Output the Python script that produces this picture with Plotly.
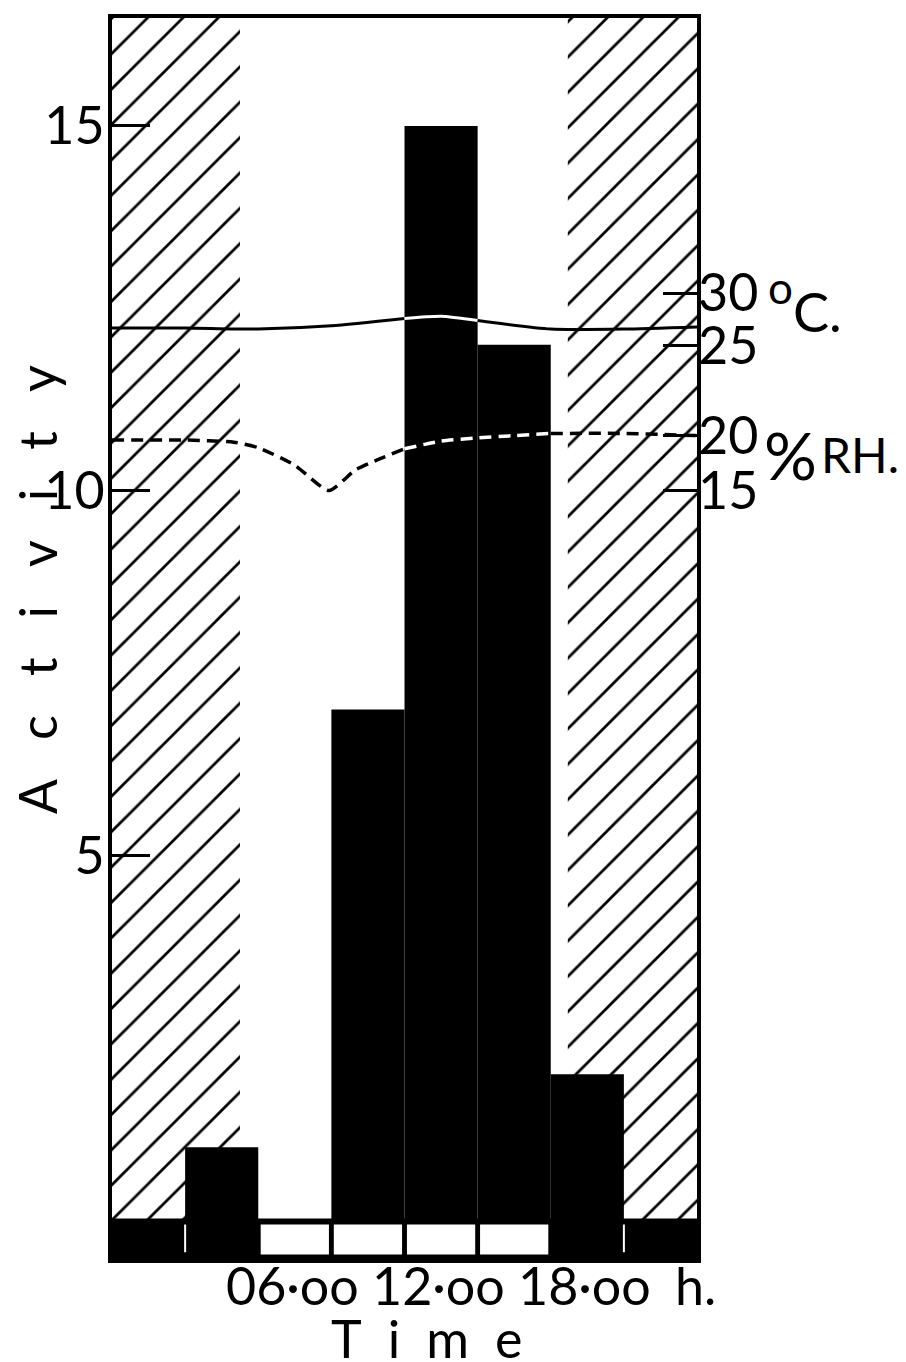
import plotly.graph_objects as go

# ---------------- data ----------------
bin_start = [3, 6, 9, 12, 15, 18]          # start of 3-hour bins (h)
activity = [1, 0, 7, 15, 12, 2]            # activity per bin
bin_width = 3

dark_start = [0, 18.7]                     # hatched (dark) periods, h
dark_end = [5.25, 24]

light_on, light_off = 6, 18                # light period in bottom strip
strip_bins = [0, 3, 6, 9, 12, 15, 18, 21, 24]

temp_hours = [0, 3, 6, 9, 12, 13.5, 15, 18, 21, 24]
temp_c = [26.7, 26.7, 26.6, 26.9, 27.6, 27.8, 27.4, 26.6, 26.6, 26.8]

rh_hours = [0, 3, 5, 6, 7.5, 8.9, 10, 11, 12, 13.5, 15, 16.5, 18, 21, 24]
rh_pct = [19.6, 19.6, 19.4, 18.9, 17.3, 15.0, 16.9, 17.9, 18.8, 19.5, 19.8, 20.0, 20.2, 20.2, 20.0]

x_ticks = [6, 12, 18]
x_ticktext = ["06·oo", "12·oo", "18·oo"]
y_ticks = [5, 10, 15]
temp_ticks = [25, 30]
rh_ticks = [15, 20]

Y_RANGE = [-0.533, 16.48]
T_RANGE = [-61.42, 56.04]
RH_RANGE = [-55.09, 58.09]

FONT = "Lato, sans-serif"
SP = "\u2002\u2009\u2009"

fig = go.Figure()

# hatched dark periods
fig.add_trace(go.Bar(
    x=[(a + b) / 2 for a, b in zip(dark_start, dark_end)],
    y=[Y_RANGE[1]] * len(dark_start),
    width=[b - a for a, b in zip(dark_start, dark_end)],
    base=0,
    marker=dict(color="white", line=dict(width=0),
                pattern=dict(shape="/", size=25, solidity=0.11,
                             fgcolor="black", bgcolor="white", fgopacity=1)),
    yaxis="y", showlegend=False, hoverinfo="skip"))

# activity bars
fig.add_trace(go.Bar(
    x=[s + bin_width / 2 for s in bin_start], y=activity, width=bin_width,
    marker=dict(color="black", line=dict(width=0)),
    yaxis="y", showlegend=False))


def split(xs, ys, a, b):
    i0, i1 = xs.index(a), xs.index(b)
    return xs[i0:i1 + 1], ys[i0:i1 + 1]


# temperature (solid): black outside bar 12-15, white over it
for (a, b, col) in [(0, 12, "black"), (12, 15, "white"), (15, 24, "black")]:
    xs, ys = split(temp_hours, temp_c, a, b)
    fig.add_trace(go.Scatter(x=xs, y=ys, mode="lines", yaxis="y2",
                             line=dict(color=col, width=3, shape="spline", smoothing=0.6),
                             showlegend=False))

# relative humidity (dashed): white where it crosses bars 12-18
for (a, b, col) in [(0, 12, "black"), (12, 18, "white"), (18, 24, "black")]:
    xs, ys = split(rh_hours, rh_pct, a, b)
    fig.add_trace(go.Scatter(x=xs, y=ys, mode="lines", yaxis="y3",
                             line=dict(color=col, width=3.5, dash="12px,7px",
                                       shape="spline", smoothing=0.6),
                             showlegend=False))

# bottom light/dark strip
shapes = [dict(type="rect", xref="x", yref="y", x0=0, x1=24, y0=Y_RANGE[0], y1=0,
               fillcolor="black", line=dict(width=0), layer="above")]
for a, b in zip(strip_bins[:-1], strip_bins[1:]):
    if a >= light_on and b <= light_off:
        shapes.append(dict(type="rect", xref="x", yref="y", x0=a + 0.1, x1=b - 0.1,
                           y0=-0.47, y1=-0.06, fillcolor="white",
                           line=dict(width=0), layer="above"))
    elif a > 0 and (a < light_on or a > light_off):
        shapes.append(dict(type="line", xref="x", yref="y", x0=a, x1=a,
                           y0=-0.44, y1=-0.06, line=dict(color="white", width=2),
                           layer="above"))
shapes.append(dict(type="line", xref="x", yref="y", x0=0, x1=24, y0=0, y1=0,
                   line=dict(color="black", width=3), layer="above"))

tickfont = dict(family=FONT, size=52, color="black")

# x tick labels (placed just right of each tick, as in the original)
annotations = [dict(text=t, xref="x", yref="paper", x=v, y=-0.0209, xshift=34,
                    xanchor="center", yanchor="middle", showarrow=False, font=tickfont)
               for v, t in zip(x_ticks, x_ticktext)]
annotations += [
    dict(text="h.", xref="x", yref="paper", x=24, y=-0.0209, xshift=-2,
         xanchor="center", yanchor="middle", showarrow=False, font=tickfont),
    dict(text=SP.join("Activity"), xref="paper", yref="paper",
         x=(37 - 112) / 585, y=(1259 - 588) / 1245, xanchor="center", yanchor="middle",
         textangle=-90, showarrow=False, font=dict(family=FONT, size=52, color="black")),
    dict(text="\u2002".join("Time"), xref="paper", yref="paper",
         x=0.538, y=(1259 - 1338) / 1245, xanchor="center", yanchor="middle",
         showarrow=False, font=dict(family=FONT, size=52, color="black")),
    dict(text="o", xref="paper", yref="paper", x=(780 - 112) / 585, y=(1259 - 284) / 1245,
         xanchor="center", yanchor="middle", showarrow=False,
         font=dict(family=FONT, size=44, color="black")),
    dict(text="C.", xref="paper", yref="paper", x=(817 - 112) / 585, y=(1259 - 308) / 1245,
         xanchor="center", yanchor="middle", showarrow=False,
         font=dict(family=FONT, size=54, color="black")),
    dict(text="%", xref="paper", yref="paper", x=(790 - 112) / 585, y=(1259 - 452) / 1245,
         xanchor="center", yanchor="middle", showarrow=False,
         font=dict(family=FONT, size=66, color="black")),
    dict(text="RH.", xref="paper", yref="paper", x=(860 - 112) / 585, y=(1259 - 452) / 1245,
         xanchor="center", yanchor="middle", showarrow=False,
         font=dict(family=FONT, size=48, color="black")),
]

fig.update_layout(
    width=898, height=1354,
    margin=dict(l=104, r=209, t=6, b=103),
    paper_bgcolor="white", plot_bgcolor="white",
    barmode="overlay",
    shapes=shapes,
    xaxis=dict(range=[0, 24], showgrid=False, zeroline=False,
               showline=True, mirror=True, linecolor="black", linewidth=4,
               tickvals=x_ticks, showticklabels=False, ticks=""),
    yaxis=dict(range=Y_RANGE, showgrid=False, zeroline=False,
               showline=True, mirror=True, linecolor="black", linewidth=4,
               tickvals=y_ticks, ticks="inside", ticklen=38, tickwidth=3,
               tickcolor="black", tickfont=tickfont, ticklabelstandoff=-7),
    yaxis2=dict(range=T_RANGE, overlaying="y", side="right", anchor="x",
                showgrid=False, zeroline=False, showline=False,
                tickvals=temp_ticks, ticks="inside", ticklen=34, tickwidth=3,
                tickcolor="black", tickfont=tickfont),
    yaxis3=dict(range=RH_RANGE, overlaying="y", side="right", anchor="x",
                showgrid=False, zeroline=False, showline=False,
                tickvals=rh_ticks, ticks="inside", ticklen=34, tickwidth=3,
                tickcolor="black", tickfont=tickfont),
    annotations=annotations,
)

fig.write_html("out.html")
